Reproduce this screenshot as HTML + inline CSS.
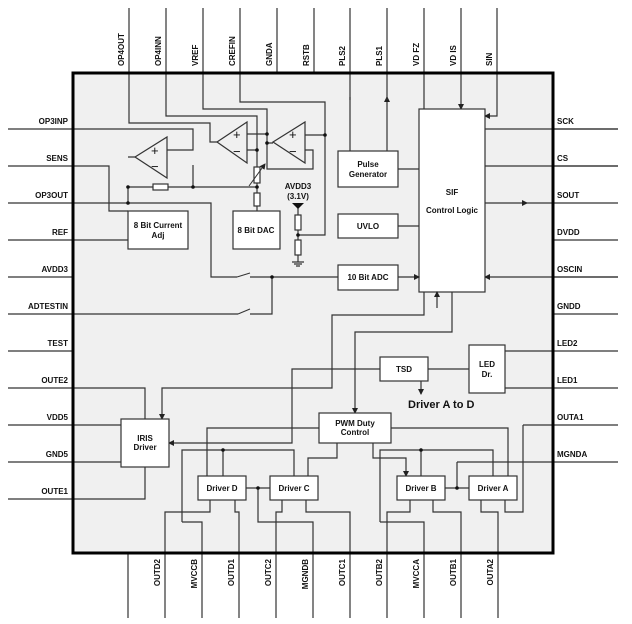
<!DOCTYPE html>
<html><head><meta charset="utf-8"><style>
html,body{margin:0;padding:0;background:#fff;}
svg{display:block;}
text{font-family:"Liberation Sans",sans-serif;font-weight:bold;font-size:8px;fill:#111;}
</style></head><body>
<svg width="632" height="624" viewBox="0 0 632 624" xmlns="http://www.w3.org/2000/svg">
<defs>
<marker id="a" markerWidth="6" markerHeight="6" refX="5" refY="3" orient="auto" markerUnits="userSpaceOnUse">
<path d="M0,0 L6,3 L0,6 z" fill="#222"/></marker>
</defs>
<rect x="73" y="73" width="480" height="480" fill="#f0f0f0"/>
<g stroke="#333" stroke-width="1.2" fill="none">
<path d="M8,129H193V150H167M193,165V187M8,166H109V211H128M8,203H211V277H237M250,277H338M8,240H128M8,277H73M8,314H238M250,314H272V277M8,351H73M8,388H145V419M8,425H121M8,462H121M8,499H145V467"/>
<path d="M237,277L250,273M238,314L250,309" stroke-width="1"/>
<path d="M553,129H618M553,166H618M553,203H618M553,240H618M553,277H618M553,314H618M505,351H618M505,388H618M523,425H618M457,462H618"/>
<path d="M618,129H485M618,166H485M618,277H485" marker-end="url(#a)"/>
<path d="M485,203H527" marker-end="url(#a)"/>
<path d="M527,203H553"/>
<path d="M129,8V123H210V142H217M166,8V116H257V211M203,8V109H267V169H313V150H305M267,134H247M267,143H273M240,8V102H325V235H298M325,135H305M257,150H247M277,8V73M314,8V73M128,187V203M128,157H135"/>
<path d="M350,151V97M387,151V97" marker-end="url(#a)"/>
<path d="M350,100V8M387,100V8"/>
<path d="M424,8V109M461,8V109" marker-end="url(#a)"/>
<path d="M497,8V116H485" marker-end="url(#a)"/>
<path d="M128,187H153M168,187H257"/>
<rect x="153" y="184" width="15" height="6" fill="#fff"/>
<rect x="254" y="167" width="6" height="16" fill="#fff"/>
<path d="M249,186L265,164" marker-end="url(#a)" stroke-width="1"/>
<rect x="254" y="193" width="6" height="13" fill="#fff"/>
<path d="M298,208V215M298,230V240M298,255V262M292,262H304M294,264H302M296,266H300"/>
<rect x="295" y="215" width="6" height="15" fill="#fff"/>
<rect x="295" y="240" width="6" height="15" fill="#fff"/>
<path d="M135,157L167,137V178Z" fill="#f0f0f0"/>
<path d="M217,142L247,122V163Z" fill="#f0f0f0"/>
<path d="M273,142L305,122V163Z" fill="#f0f0f0"/>
<rect x="128" y="211" width="60" height="38" fill="#fff"/>
<rect x="233" y="211" width="47" height="38" fill="#fff"/>
<rect x="338" y="151" width="60" height="36" fill="#fff"/>
<rect x="338" y="214" width="60" height="24" fill="#fff"/>
<rect x="338" y="265" width="60" height="25" fill="#fff"/>
<rect x="419" y="109" width="66" height="183" fill="#fff"/>
<path d="M419,169H398M398,226H419M398,277H419" marker-end="url(#a)"/>
<path d="M437,308V292" marker-end="url(#a)"/>
<path d="M424,292V315H332V388H162V419" marker-end="url(#a)"/>
<path d="M452,292V332H355V413" marker-end="url(#a)"/>
<rect x="380" y="357" width="48" height="24" fill="#fff"/>
<path d="M428,369H469M421,381V394" marker-end="url(#a)"/>
<path d="M380,369H292V443H169" marker-end="url(#a)"/>
<rect x="469" y="345" width="36" height="48" fill="#fff"/>
<rect x="121" y="419" width="48" height="48" fill="#fff"/>
<rect x="319" y="413" width="72" height="30" fill="#fff"/>
<path d="M319,428H207V476M391,428H508V476M337,443V458H308V476M373,443V458H406V476" marker-end="url(#a)"/>
<rect x="198" y="476" width="48" height="24" fill="#fff"/>
<rect x="270" y="476" width="48" height="24" fill="#fff"/>
<rect x="397" y="476" width="48" height="24" fill="#fff"/>
<rect x="469" y="476" width="48" height="24" fill="#fff"/>
<path d="M246,488H270M258,488V522H313V553M182,522V450H294V476M223,450V476M182,522H202V553"/>
<path d="M210,500V512H165V553M235,500V512H239V553M282,500V512H276V553M306,500V512H350V553"/>
<path d="M445,488H469M457,488V462M380,522V450H493V476M421,450V476M380,522H424V553"/>
<path d="M410,500V512H387V553M433,500V512H461V553M481,500V512H498V553M505,500V512H523V425"/>
<path d="M128,553V618M165,553V618M202,553V618M239,553V618M276,553V618M313,553V618M350,553V618M387,553V618M424,553V618M461,553V618M498,553V618"/>
</g>
<polygon points="292,203 304,203 298,209" fill="#111"/>
<g fill="#111">
<circle cx="128" cy="187" r="1.8"/><circle cx="193" cy="187" r="1.8"/><circle cx="257" cy="187" r="1.8"/><circle cx="128" cy="203" r="1.8"/>
<circle cx="257" cy="150" r="1.8"/><circle cx="267" cy="134" r="1.8"/><circle cx="267" cy="143" r="1.8"/><circle cx="325" cy="135" r="1.8"/><circle cx="298" cy="235" r="1.8"/>
<circle cx="272" cy="277" r="1.8"/><circle cx="223" cy="450" r="1.8"/><circle cx="258" cy="488" r="1.8"/><circle cx="421" cy="450" r="1.8"/><circle cx="457" cy="488" r="1.8"/>
</g>
<rect x="73" y="73" width="480" height="480" fill="none" stroke="#000" stroke-width="3"/>
<g style="font-weight:normal;font-size:13px">
<text x="151" y="155" style="font-weight:normal;font-size:13px">+</text><text x="151" y="171" style="font-weight:normal;font-size:13px">−</text>
<text x="233" y="139" style="font-weight:normal;font-size:13px">+</text><text x="233" y="156" style="font-weight:normal;font-size:13px">−</text>
<text x="289" y="139" style="font-weight:normal;font-size:13px">+</text><text x="289" y="156" style="font-weight:normal;font-size:13px">−</text>
</g>
<g text-anchor="middle">
<text x="158" y="228">8 Bit Current</text><text x="158" y="238">Adj</text>
<text x="256" y="233">8 Bit DAC</text>
<text x="298" y="189">AVDD3</text><text x="298" y="199">(3.1V)</text>
<text x="368" y="167">Pulse</text><text x="368" y="177">Generator</text>
<text x="368" y="229">UVLO</text>
<text x="368" y="280">10 Bit ADC</text>
<text x="452" y="195">SIF</text><text x="452" y="213">Control Logic</text>
<text x="404" y="372">TSD</text>
<text x="487" y="367">LED</text><text x="487" y="377">Dr.</text>
<text x="145" y="441">IRIS</text><text x="145" y="450">Driver</text>
<text x="355" y="426">PWM Duty</text><text x="355" y="435">Control</text>
<text x="222" y="491">Driver D</text><text x="294" y="491">Driver C</text><text x="421" y="491">Driver B</text><text x="493" y="491">Driver A</text>
</g>
<text x="408" y="408" style="font-size:11px">Driver A to D</text>
<g text-anchor="end">
<text x="68" y="124">OP3INP</text><text x="68" y="161">SENS</text><text x="68" y="198">OP3OUT</text><text x="68" y="235">REF</text><text x="68" y="272">AVDD3</text><text x="68" y="309">ADTESTIN</text><text x="68" y="346">TEST</text><text x="68" y="383">OUTE2</text><text x="68" y="420">VDD5</text><text x="68" y="457">GND5</text><text x="68" y="494">OUTE1</text>
</g>
<g>
<text x="557" y="124">SCK</text><text x="557" y="161">CS</text><text x="557" y="198">SOUT</text><text x="557" y="235">DVDD</text><text x="557" y="272">OSCIN</text><text x="557" y="309">GNDD</text><text x="557" y="346">LED2</text><text x="557" y="383">LED1</text><text x="557" y="420">OUTA1</text><text x="557" y="457">MGNDA</text>
</g>
<g>
<text transform="translate(124,66) rotate(-90)">OP4OUT</text>
<text transform="translate(161,66) rotate(-90)">OP4INN</text>
<text transform="translate(198,66) rotate(-90)">VREF</text>
<text transform="translate(235,66) rotate(-90)">CREFIN</text>
<text transform="translate(272,66) rotate(-90)">GNDA</text>
<text transform="translate(309,66) rotate(-90)">RSTB</text>
<text transform="translate(345,66) rotate(-90)">PLS2</text>
<text transform="translate(382,66) rotate(-90)">PLS1</text>
<text transform="translate(419,66) rotate(-90)">VD FZ</text>
<text transform="translate(456,66) rotate(-90)">VD IS</text>
<text transform="translate(492,66) rotate(-90)">SIN</text>
</g>
<g text-anchor="end">
<text transform="translate(160,559) rotate(-90)">OUTD2</text>
<text transform="translate(197,559) rotate(-90)">MVCCB</text>
<text transform="translate(234,559) rotate(-90)">OUTD1</text>
<text transform="translate(271,559) rotate(-90)">OUTC2</text>
<text transform="translate(308,559) rotate(-90)">MGNDB</text>
<text transform="translate(345,559) rotate(-90)">OUTC1</text>
<text transform="translate(382,559) rotate(-90)">OUTB2</text>
<text transform="translate(419,559) rotate(-90)">MVCCA</text>
<text transform="translate(456,559) rotate(-90)">OUTB1</text>
<text transform="translate(493,559) rotate(-90)">OUTA2</text>
</g>
</svg>
</body></html>
